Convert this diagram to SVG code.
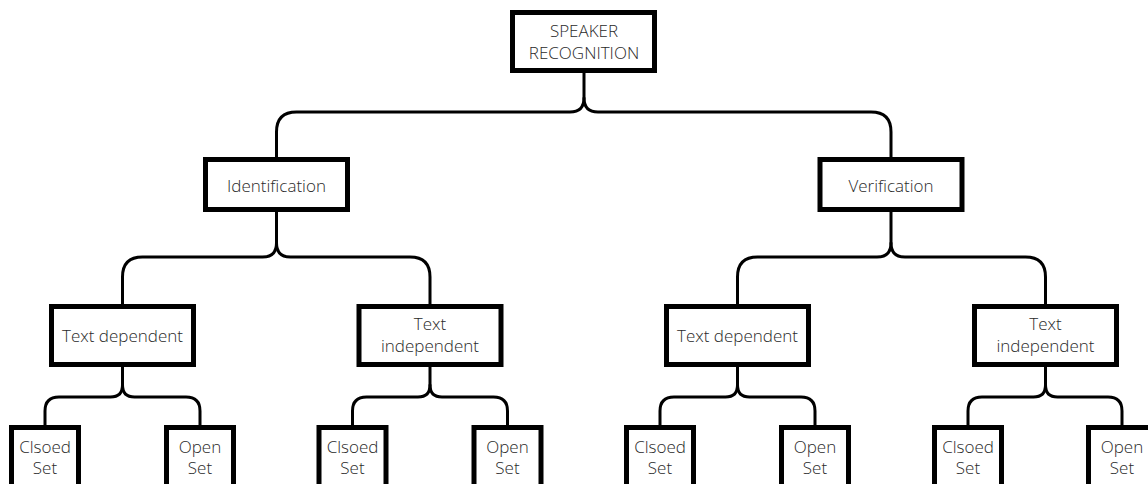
<svg xmlns="http://www.w3.org/2000/svg" width="1148" height="484" viewBox="0 0 1148 484">
<style>
.box{fill:#fff;stroke:#000;stroke-width:5}
.lbl{font-family:"Open Sans","Liberation Sans",sans-serif;font-size:17px;font-weight:300;fill:#2a2a2a;text-anchor:middle}
.con{fill:none;stroke:#000;stroke-width:3;stroke-linecap:round;stroke-linejoin:round}
</style>
<rect width="1148" height="484" fill="#fff"/>
<g id="connectors" class="con">
<path d="M584,73 V98 Q584,112 570,112 H296.5 Q276.5,112 276.5,132 V157"/>
<path d="M584,98 Q584,112 598,112 H871 Q891,112 891,132 V157"/>
<path d="M276.5,212 V243 Q276.5,257 262.5,257 H142.5 Q122.5,257 122.5,277 V304"/>
<path d="M276.5,243 Q276.5,257 290.5,257 H410 Q430,257 430,277 V304"/>
<path d="M891,212 V243 Q891,257 877,257 H757.5 Q737.5,257 737.5,277 V304"/>
<path d="M891,243 Q891,257 905,257 H1025.5 Q1045.5,257 1045.5,277 V304"/>
<path d="M122.5,367 V385 Q122.5,397 110.5,397 H59 Q45,397 45,411 V425"/>
<path d="M122.5,385 Q122.5,397 134.5,397 H186 Q200,397 200,411 V425"/>
<path d="M430,367 V385 Q430,397 418,397 H366.5 Q352.5,397 352.5,411 V425"/>
<path d="M430,385 Q430,397 442,397 H493.5 Q507.5,397 507.5,411 V425"/>
<path d="M737.5,367 V385 Q737.5,397 725.5,397 H674 Q660,397 660,411 V425"/>
<path d="M737.5,385 Q737.5,397 749.5,397 H801 Q815,397 815,411 V425"/>
<path d="M1045.5,367 V385 Q1045.5,397 1033.5,397 H982 Q968,397 968,411 V425"/>
<path d="M1045.5,385 Q1045.5,397 1057.5,397 H1108 Q1122,397 1122,411 V425"/>
</g>
<g id="root"><rect class="box" x="512.5" y="12.5" width="142" height="58"/><text class="lbl" x="584" y="37">SPEAKER</text><text class="lbl" x="584" y="59">RECOGNITION</text></g>
<g id="identification"><rect class="box" x="205.5" y="159.5" width="142" height="50"/><text class="lbl" x="276.5" y="192">Identification</text></g>
<g id="verification"><rect class="box" x="820" y="159.5" width="142" height="50"/><text class="lbl" x="891" y="192">Verification</text></g>
<g id="id-text-dependent"><rect class="box" x="51.5" y="306.5" width="142" height="58"/><text class="lbl" x="122.5" y="342">Text dependent</text></g>
<g id="id-text-independent"><rect class="box" x="359" y="306.5" width="142" height="58"/><text class="lbl" x="430" y="330">Text</text><text class="lbl" x="430" y="352">independent</text></g>
<g id="ver-text-dependent"><rect class="box" x="666.5" y="306.5" width="142" height="58"/><text class="lbl" x="737.5" y="342">Text dependent</text></g>
<g id="ver-text-independent"><rect class="box" x="974.5" y="306.5" width="142" height="58"/><text class="lbl" x="1045.5" y="330">Text</text><text class="lbl" x="1045.5" y="352">independent</text></g>
<g id="id-td-closed"><rect class="box" x="11.5" y="427.5" width="67" height="80"/><text class="lbl" x="45" y="453">Clsoed</text><text class="lbl" x="45" y="474">Set</text></g>
<g id="id-td-open"><rect class="box" x="166.5" y="427.5" width="67" height="80"/><text class="lbl" x="200" y="453">Open</text><text class="lbl" x="200" y="474">Set</text></g>
<g id="id-ti-closed"><rect class="box" x="319" y="427.5" width="67" height="80"/><text class="lbl" x="352.5" y="453">Clsoed</text><text class="lbl" x="352.5" y="474">Set</text></g>
<g id="id-ti-open"><rect class="box" x="474" y="427.5" width="67" height="80"/><text class="lbl" x="507.5" y="453">Open</text><text class="lbl" x="507.5" y="474">Set</text></g>
<g id="ver-td-closed"><rect class="box" x="626.5" y="427.5" width="67" height="80"/><text class="lbl" x="660" y="453">Clsoed</text><text class="lbl" x="660" y="474">Set</text></g>
<g id="ver-td-open"><rect class="box" x="781.5" y="427.5" width="67" height="80"/><text class="lbl" x="815" y="453">Open</text><text class="lbl" x="815" y="474">Set</text></g>
<g id="ver-ti-closed"><rect class="box" x="934.5" y="427.5" width="67" height="80"/><text class="lbl" x="968" y="453">Clsoed</text><text class="lbl" x="968" y="474">Set</text></g>
<g id="ver-ti-open"><rect class="box" x="1088.5" y="427.5" width="67" height="80"/><text class="lbl" x="1122" y="453">Open</text><text class="lbl" x="1122" y="474">Set</text></g>
</svg>
